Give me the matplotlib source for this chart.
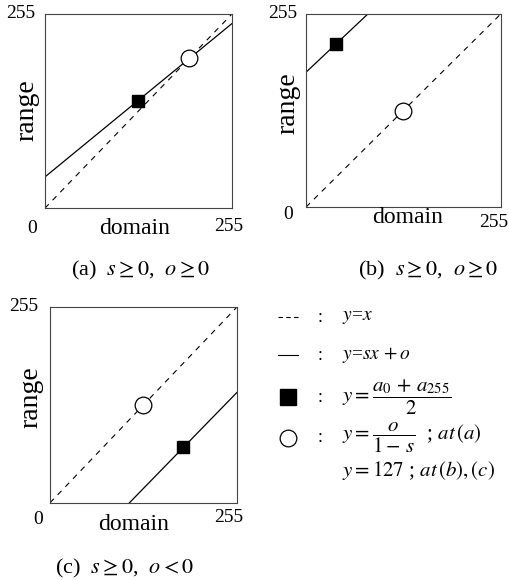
import numpy as np
import matplotlib.pyplot as plt
from matplotlib.lines import Line2D

plt.rcParams['font.family'] = ['Liberation Serif', 'DejaVu Serif']
plt.rcParams['mathtext.fontset'] = 'stix'

# values in 0..255 grey-level units, one entry per panel (a), (b), (c)
panel_names = ["(a)", "(b)", "(c)"]
captions = [r"(a)  $s\geq0$,  $o\geq0$", r"(b)  $s\geq0$,  $o\geq0$", r"(c)  $s\geq0$,  $o<0$"]
slopes = [0.79, 0.95, 0.98]
offsets = [41, 178, -106]
square_x = [127, 39, 181]
square_y = [141, 215, 73]
circle_x = [197, 127, 127]
circle_y = [197, 127, 127]
vmax = 255

# axes boxes [left, bottom, width, height] in figure fraction
boxes = [
    [0.088, 0.641, 0.367, 0.335],
    [0.600, 0.643, 0.382, 0.333],
    [0.098, 0.133, 0.367, 0.338],
]
# label positions in axes fraction: top255, zero, right255, domain, range, caption
label_pos = [
    [(-0.128, 1.0), (-0.07, -0.103), (0.984, -0.093), (0.48, -0.103), (-0.096, 0.505), (0.513, -0.32)],
    [(-0.118, 1.0), (-0.09, -0.04), (0.964, -0.078), (0.523, -0.052), (-0.092, 0.539), (0.626, -0.326)],
    [(-0.142, 1.0), (-0.064, -0.087), (0.957, -0.077), (0.444, -0.112), (-0.102, 0.54), (0.401, -0.335)],
]

fig = plt.figure(figsize=(5.1, 5.8), dpi=100)

x = np.array([0, vmax])
for i in range(3):
    ax = fig.add_axes(boxes[i])
    ax.set_xlim(0, vmax)
    ax.set_ylim(0, vmax)
    ax.set_xticks([])
    ax.set_yticks([])
    for sp in ax.spines.values():
        sp.set_linewidth(0.8)
        sp.set_color('#444444')

    ax.plot(x, x, color='black', lw=0.8, linestyle=(0, (5, 5)))
    ax.plot(x, slopes[i] * x + offsets[i], color='black', lw=0.9)
    ax.plot(square_x[i], square_y[i], marker='s', markersize=9, color='black', zorder=5)
    ax.plot(circle_x[i], circle_y[i], marker='o', markersize=12, markerfacecolor='white',
            markeredgecolor='black', markeredgewidth=0.9, zorder=5)

    p = label_pos[i]
    ax.text(*p[0], "255", transform=ax.transAxes, ha='center', va='center', fontsize=14)
    ax.text(*p[1], "0", transform=ax.transAxes, ha='center', va='center', fontsize=14)
    ax.text(*p[2], "255", transform=ax.transAxes, ha='center', va='center', fontsize=14)
    ax.text(*p[3], "domain", transform=ax.transAxes, ha='center', va='center', fontsize=17)
    ax.text(*p[4], "range", transform=ax.transAxes, ha='center', va='center', fontsize=20, rotation=90)
    ax.text(*p[5], captions[i], transform=ax.transAxes, ha='center', va='center', fontsize=16)

# legend drawn in pixel coordinates
lg = fig.add_axes([0, 0, 1, 1])
lg.set_xlim(0, 510)
lg.set_ylim(580, 0)
lg.axis('off')

rows_y = [317, 355, 397, 438, 470]
key_x = 288
colon_x = 320
text_x = 342
lg.add_line(Line2D([278, 298], [rows_y[0]] * 2, color='black', lw=0.8, linestyle=(0, (4, 3))))
lg.add_line(Line2D([278, 298], [rows_y[1]] * 2, color='black', lw=0.8))
lg.plot(key_x, rows_y[2], marker='s', markersize=11, color='black')
lg.plot(key_x, rows_y[3], marker='o', markersize=12, markerfacecolor='white',
        markeredgecolor='black', markeredgewidth=0.9)
for yy in rows_y[:4]:
    lg.text(colon_x, yy, ":", ha='center', va='center', fontsize=13)

legend_texts = [
    r"$y$=$x$",
    r"$y$=$sx\,+o$",
    r"$y=\dfrac{a_0\,+\,a_{255}}{2}$",
    r"$y=\dfrac{o}{1-\,s}$  ; $at\,(a)$",
    r"$y=127$ ; $at\,(b),(c)$",
]
sizes = [14, 14, 15, 15, 15]
for yy, t, fs in zip(rows_y, legend_texts, sizes):
    lg.text(text_x, yy, t, ha='left', va='center', fontsize=fs)

fig.savefig("out.png", dpi=100)
